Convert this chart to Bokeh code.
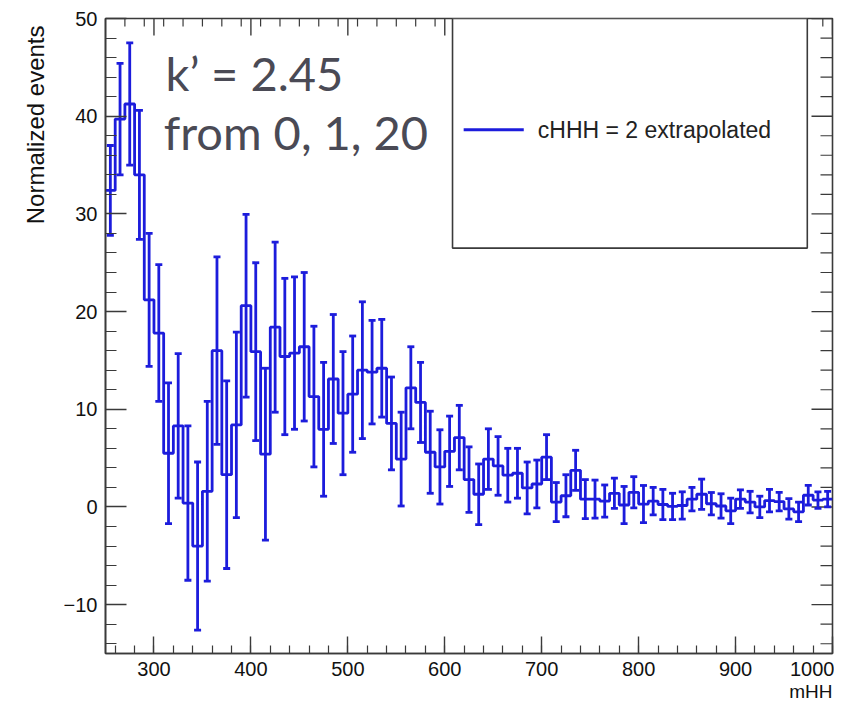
import numpy as np
from bokeh.plotting import figure
from bokeh.models import LinearAxis, SingleIntervalTicker, Range1d, ColumnDataSource, Title
from bokeh.core.properties import value
from bokeh.embed import file_html
from bokeh.resources import INLINE

# ---------------- data ----------------
bin_width = 10
bin_centers = list(range(255, 1000, 10))
counts = [
    32.4, 39.7, 41.25, 34.0, 21.2, 17.8, 5.5, 8.3, 0.4, -4.0,
    1.6, 16.0, 3.3, 8.4, 20.6, 15.9, 5.4, 18.4, 15.4, 15.75,
    16.4, 11.3, 7.95, 13.1, 9.6, 11.55, 14.0, 13.8, 14.2, 8.55,
    4.9, 12.2, 10.7, 5.6, 4.1, 5.7, 7.1, 2.8, 1.3, 4.9,
    4.2, 3.25, 3.45, 1.95, 2.35, 5.1, 0.5, 1.15, 3.75, 0.8,
    0.8, 0.6, 1.4, 0.2, 1.5, 0.3, 0.6, 0.25, 0.05, 0.15,
    0.8, 1.3, 0.33, 0.1, -0.4, 0.8, 0.5, 0.0, 0.65, 0.55,
    -0.2, -0.5, 1.2, 0.7, 0.8,
]
errors = [
    4.6, 5.7, 6.25, 6.6, 6.8, 7.0, 7.2, 7.4, 7.9, 8.6,
    9.2, 9.6, 9.6, 9.5, 9.35, 9.1, 8.8, 8.7, 8.0, 7.8,
    7.6, 7.2, 6.85, 6.6, 6.3, 5.95, 7.0, 5.3, 5.0, 4.75,
    4.8, 4.2, 4.1, 4.2, 3.8, 3.6, 3.3, 3.35, 3.1, 3.1,
    3.0, 2.75, 2.55, 2.65, 2.45, 2.3, 2.0, 2.15, 2.05, 2.0,
    1.95, 1.65, 1.55, 1.9, 1.6, 1.9, 1.4, 1.55, 1.35, 1.4,
    1.2, 1.55, 1.15, 1.25, 1.3, 0.95, 1.1, 1.1, 1.15, 0.95,
    1.05, 1.0, 1.0, 0.85, 0.8,
]
assert len(bin_centers) == len(counts) == len(errors) == 75

x_range = (250, 1000)
y_range = (-15, 50)
x_major_ticks = [300, 400, 500, 600, 700, 800, 900, 1000]
y_major_ticks = [-10, 0, 10, 20, 30, 40, 50]
x_minor_step = 20
y_minor_step = 2

legend_label = "cHHH = 2 extrapolated"
annot_lines = ["k\u2019 = 2.45", "from 0, 1, 20"]
x_title = "mHH"
y_title = "Normalized events"

# ---------------- figure ----------------
HIST = "#1c1cdc"
AX = "#3a3a3a"
FONT = "Liberation Sans"

W, H = 834, 705
FL, FR, FT, FB = 105, 832, 18, 653   # frame edges in canvas pixels

p = figure(width=W, height=H, output_backend="svg", toolbar_location=None,
           x_range=Range1d(*x_range), y_range=Range1d(*y_range),
           x_axis_location=None, y_axis_location=None)
p.min_border_left = FL
p.min_border_right = W - FR
p.min_border_top = FT
p.min_border_bottom = H - FB
p.outline_line_color = AX
p.outline_line_width = 1.6
p.background_fill_color = "white"
p.border_fill_color = "white"
p.xgrid.visible = False
p.ygrid.visible = False

px_x = (FR - FL) / (x_range[1] - x_range[0])
px_y = (FB - FT) / (y_range[1] - y_range[0])


def style(ax, maj, mino):
    ax.axis_line_color = AX
    ax.axis_line_width = 1.6
    ax.major_tick_line_color = AX
    ax.minor_tick_line_color = AX
    ax.major_tick_line_width = 1.4
    ax.minor_tick_line_width = 1.2
    ax.major_tick_in = maj
    ax.major_tick_out = 0
    ax.minor_tick_in = mino
    ax.minor_tick_out = 0
    ax.major_label_text_font = FONT
    ax.major_label_text_font_size = "20px"
    ax.major_label_text_color = "#111111"


xb = LinearAxis(ticker=SingleIntervalTicker(interval=100, num_minor_ticks=5))
style(xb, 17, 8)
xb.major_label_standoff = 8
p.add_layout(xb, "below")

yl = LinearAxis(ticker=SingleIntervalTicker(interval=10, num_minor_ticks=5))
style(yl, 21, 11)
yl.major_label_standoff = 8
p.add_layout(yl, "left")

# axis titles, ROOT style (at the far end of each axis)
p.add_layout(Title(text=x_title, align="right", standoff=0, text_font=FONT,
                   text_font_size="19px", text_font_style="normal",
                   text_color="#111111"), "below")
p.add_layout(Title(text=y_title, align="right", standoff=23, offset=7, text_font=FONT,
                   text_font_size="24px", text_font_style="normal",
                   text_color="#111111"), "left")

# ticks on the top and right frame sides (ROOT style, inward, no labels)
x_minor = [x for x in range(x_range[0] + x_minor_step, x_range[1] + 1, x_minor_step)
           if x not in x_major_ticks]
y_minor = [y for y in range(y_range[0] + 1, y_range[1] + 1, y_minor_step)
           if y not in y_major_ticks]
top = y_range[1]
right = x_range[1]
p.segment(x0=x_major_ticks, y0=[top] * len(x_major_ticks), x1=x_major_ticks,
          y1=[top - 17 / px_y] * len(x_major_ticks), line_color=AX, line_width=1.4)
p.segment(x0=x_minor, y0=[top] * len(x_minor), x1=x_minor,
          y1=[top - 8 / px_y] * len(x_minor), line_color=AX, line_width=1.2)
p.segment(x0=[right] * len(y_major_ticks), y0=y_major_ticks,
          x1=[right - 21 / px_x] * len(y_major_ticks), y1=y_major_ticks,
          line_color=AX, line_width=1.4)
p.segment(x0=[right] * len(y_minor), y0=y_minor,
          x1=[right - 12 / px_x] * len(y_minor), y1=y_minor,
          line_color=AX, line_width=1.2)

# ---------------- histogram ----------------
c = np.array(bin_centers, dtype=float)
v = np.array(counts, dtype=float)
e = np.array(errors, dtype=float)
edges = np.append(c - bin_width / 2, c[-1] + bin_width / 2)
step_y = np.append(v, v[-1])

p.step(x=edges, y=step_y, mode="after", line_color=HIST, line_width=2.8)

src = ColumnDataSource(dict(x=c, lo=v - e, hi=v + e))
p.segment(x0="x", y0="lo", x1="x", y1="hi", source=src, line_color=HIST, line_width=2.8)
p.scatter(x="x", y="lo", source=src, marker="dash", size=7, line_color=HIST, line_width=2.8)
p.scatter(x="x", y="hi", source=src, marker="dash", size=7, line_color=HIST, line_width=2.8)

# ---------------- legend (ROOT style box) ----------------
p.quad(left=[608], right=[974], bottom=[26.5], top=[50.0],
       fill_color="white", line_color=AX, line_width=1.6)
p.line(x=[619.5, 681.5], y=[38.6, 38.6], line_color=HIST, line_width=3)
p.text(x=[696], y=[38.6], text=[legend_label], text_font=value(FONT),
       text_font_size="23px", text_baseline="middle", text_align="left",
       text_color="#222222")

# ---------------- annotation ----------------
p.text(x=[312, 310], y=[44.45, 38.35], text=annot_lines, text_font=value("Lato"),
       text_font_size="47px", text_baseline="alphabetic", text_align="left",
       text_color="#4a4a55")

open("out.html", "w").write(file_html(p, INLINE))
